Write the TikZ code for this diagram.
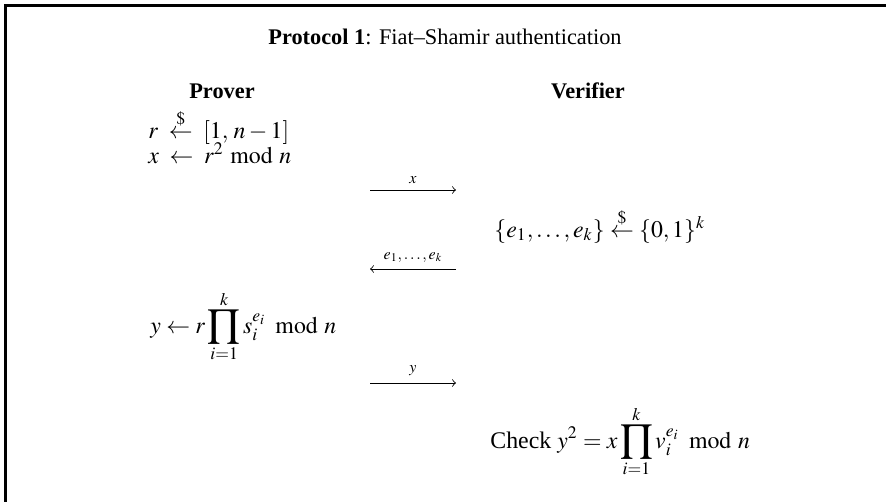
\documentclass[tikz,border=0pt]{standalone}
\usepackage{mathptmx}
\usepackage{graphicx}
\usepackage{fontspec}
\setmainfont{Liberation Serif}
\usetikzlibrary{positioning}
\newcommand{\bigprd}{\mathop{\vcenter{\hbox{\scalebox{1.15}{$\displaystyle\prod$}}}}\limits}

\begin{document}
\begin{tikzpicture}[x=0.47pt, y=-0.47pt, every node/.style={inner sep=0pt},
  txt/.style={font=\fontsize{10.5}{12.6}\selectfont},
  eqn/.style={anchor=base west, font=\fontsize{11.2}{13.4}\selectfont},
  msg/.style={->, line width=0.4pt},
  lbl/.style={font=\fontsize{7.5}{9}\selectfont, above=3pt}]
  \useasboundingbox (0,0) rectangle (886,502);
  % frame, only the top and left sides fall inside the page
  \draw[line width=1pt] (5.5,520) -- (5.5,5.5) -- (900,5.5);
  \node[txt, anchor=base] (title) at (445,44) {\textbf{Protocol 1}: Fiat--Shamir authentication};
  \node[txt, anchor=base] (prover) at (222,98) {\textbf{Prover}};
  \node[txt, anchor=base] (verifier) at (588,98) {\textbf{Verifier}};
  % prover commits
  \node[eqn] (pick) at (148,138) {$r \;\stackrel{\$}{\leftarrow}\; [1,\, n - 1]$};
  \node[eqn] (commit) at (148,163) {$x \;\leftarrow\; r^2 \bmod n$};
  \coordinate (xl) at (370,190);
  \coordinate (xr) at (456,190);
  \draw[msg] (xl) -- node[lbl] (xlab) {$x$} (xr);
  % verifier challenges
  \node[eqn] (chal) at (494,237) {$\{e_1, \ldots, e_k\} \stackrel{\$}{\leftarrow} \{0, 1\}^k$};
  \coordinate (el) at (370,269);
  \coordinate (er) at (456,269);
  \draw[msg] (er) -- node[lbl] (elab) {$e_1,\ldots,e_k$} (el);
  % prover responds
  \node[eqn] (resp) at (150,333) {$\displaystyle y \leftarrow r \bigprd_{i=1}^{k} s_i^{e_i}\, \bmod n$};
  \coordinate (yl) at (370,383);
  \coordinate (yr) at (456,383);
  \draw[msg] (yl) -- node[lbl] (ylab) {$y$} (yr);
  % verifier checks
  \node[eqn] (check) at (490,448) {Check $\displaystyle y^2 = x \bigprd_{i=1}^{k} v_i^{e_i}\, \bmod n$};
\end{tikzpicture}
\end{document}
